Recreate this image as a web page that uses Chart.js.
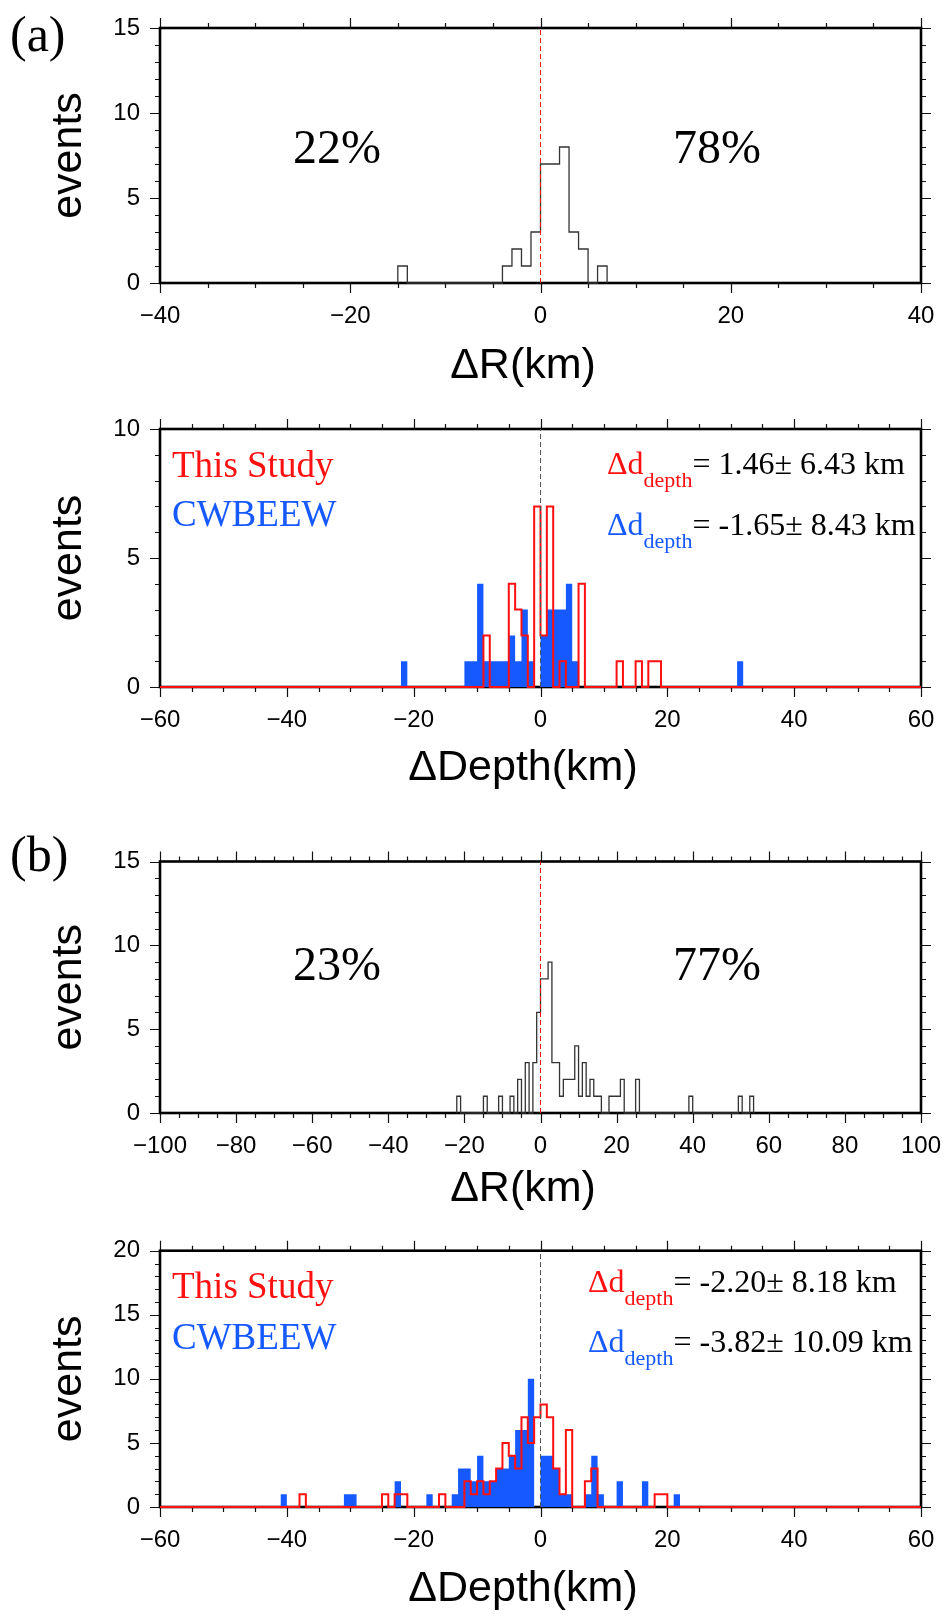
<!DOCTYPE html>
<html>
<head>
<meta charset="utf-8">
<script src="https://cdn.jsdelivr.net/npm/chart.js@4.4.1/dist/chart.umd.min.js"></script>
<style>
  body { margin: 0; background: #fff; width: 945px; height: 1618px; position: relative; overflow: hidden; }
  .panel { position: absolute; left: 0; width: 945px; }
</style>
</head>
<body>
<div class="panel" style="top:0;height:400px"><canvas id="rA"></canvas></div>
<div class="panel" style="top:400px;height:400px"><canvas id="dA"></canvas></div>
<div class="panel" style="top:800px;height:420px"><canvas id="rB"></canvas></div>
<div class="panel" style="top:1220px;height:398px"><canvas id="dB"></canvas></div>
<script>
// histogram bins are 1 km wide; *_bins hold the left edge of each non-empty bin

// (a) epicentral error ΔR
const rA_bins   = [-15, -4, -3, -2, -1, 0, 1, 2, 3, 4, 6];
const rA_counts = [  1,  1,  2,  1,  3, 7, 7, 8, 3, 2, 1];

// (a) depth error, this study vs CWBEEW
const dA_study_bins   = [-9, -5, -4, -3, -1, 0, 1, 3, 6, 12, 15, 17, 18];
const dA_study_counts = [ 2,  4,  3,  2,  7, 2, 7, 1, 4,  1,  1,  1,  1];
const dA_cwb_bins     = [-22, -12, -11, -10, -9, -8, -7, -6, -5, -4, -3, -2, 0, 1, 2, 3, 4, 5, 31];
const dA_cwb_counts   = [  1,   1,   1,   4,  1,  1,  1,  1,  2,  1,  3,  1, 2, 3, 3, 3, 4, 1,  1];

// (b) epicentral error ΔR
const rB_bins   = [-22, -15, -11, -8, -6, -4, -2, -1, 0, 1, 2, 3, 4, 5, 6, 7, 8, 9, 10, 11, 12, 13, 14, 15, 18, 19, 20, 21, 25, 39, 52, 55];
const rB_counts = [  1,   1,   1,  1,  2,  3,  3,  6, 8, 8, 9, 3, 3, 1, 2, 2, 2, 4,  1,  3,  1,  2,  1,  1,  1,  1,  1,  2,  2,  1,  1,  1];

// (b) depth error, this study vs CWBEEW
const dB_study_bins   = [-38, -25, -23, -22, -16, -12, -11, -10, -9, -8, -7, -6, -5, -4, -3, -2, -1, 0, 1, 2, 3, 4, 7, 8, 18, 19];
const dB_study_counts = [  1,   1,   1,   1,   1,   2,   1,   2,  1,  2,  3,  5,  4,  3,  7,  5,  7, 8, 7, 3, 1, 6, 2, 3,  1,  1];
const dB_cwb_bins     = [-41, -31, -30, -23, -18, -14, -13, -12, -11, -10, -9, -8, -7, -6, -5, -4, -3, -2, 0, 1, 2, 3, 4, 7, 8, 9, 12, 16, 21];
const dB_cwb_counts   = [  1,   1,   1,   2,   1,   1,   3,   3,   2,   4,  2,  2,  3,  3,  4,  6,  6, 10, 4, 4, 3, 1, 1, 1, 4, 1,  2,  2,  1];

const BIN = 1;
const RED = '#ff1010';
const BLUE = '#1559ff';
const SANS = '"Liberation Sans", Arial, Helvetica, sans-serif';
const SERIF = '"Liberation Serif", "Times New Roman", serif';

// stair outline of a histogram; lo/hi extend it along the zero line
function stairs(bins, counts, lo, hi) {
  const pts = [];
  if (lo !== undefined) pts.push({x: lo, y: 0});
  bins.forEach((b, i) => {
    const prevEnd = i > 0 ? bins[i - 1] + BIN : null;
    if (prevEnd !== b) {
      if (prevEnd !== null) pts.push({x: prevEnd, y: 0});
      pts.push({x: b, y: 0});
    }
    pts.push({x: b, y: counts[i]}, {x: b + BIN, y: counts[i]});
  });
  pts.push({x: bins[bins.length - 1] + BIN, y: 0});
  if (hi !== undefined) pts.push({x: hi, y: 0});
  return pts;
}

function zeroLine(top, color) {
  return { data: [{x: 0, y: 0}, {x: 0, y: top}], borderColor: color, borderWidth: 1, borderDash: [5, 3], clip: false };
}

const minus = v => (v < 0 ? '\u2212' + Math.abs(v) : String(v));

// frame, GMT style ticks on all sides, and the text annotations
function framePlugin(p) {
  return {
    id: 'frame',
    beforeDatasetsDraw(chart) {
      const {ctx, chartArea: a, scales: {x, y}} = chart;
      ctx.save();
      ctx.strokeStyle = '#111';
      ctx.lineWidth = 1.2;
      ctx.beginPath();
      for (let v = x.min; v <= x.max + 1e-9; v += p.xMinor) {
        const len = Math.abs(v % p.xMajor) < 1e-9 ? 10 : 5;
        const px = Math.round(x.getPixelForValue(v)) + 0.5;
        ctx.moveTo(px, a.bottom); ctx.lineTo(px, a.bottom + len);
        ctx.moveTo(px, a.top); ctx.lineTo(px, a.top - len);
      }
      for (let v = y.min; v <= y.max + 1e-9; v += p.yMinor) {
        const len = Math.abs(v % p.yMajor) < 1e-9 ? 10 : 5;
        const py = Math.round(y.getPixelForValue(v)) + 0.5;
        ctx.moveTo(a.left, py); ctx.lineTo(a.left - len, py);
        ctx.moveTo(a.right, py); ctx.lineTo(a.right + len, py);
      }
      ctx.stroke();
      ctx.lineWidth = 2.6;
      ctx.strokeStyle = '#000';
      ctx.strokeRect(a.left, a.top, a.right - a.left, a.bottom - a.top);
      ctx.restore();
    },
    afterDraw(chart) {
      const ctx = chart.ctx;
      ctx.save();
      ctx.fillStyle = '#000';
      ctx.font = '43px ' + SANS;
      ctx.textAlign = 'center';
      ctx.textBaseline = 'middle';
      ctx.fillText(p.title, 523, p.titleY);
      for (const n of p.notes) {
        let xx = n.x;
        if (n.align === 'center') {
          ctx.font = n.runs[0].font;
          xx -= ctx.measureText(n.runs[0].text).width / 2;
        }
        ctx.textAlign = 'left';
        ctx.textBaseline = 'alphabetic';
        for (const r of n.runs) {
          ctx.font = r.font;
          ctx.fillStyle = r.color || '#000';
          ctx.fillText(r.text, xx, n.y + (r.dy || 0));
          xx += ctx.measureText(r.text).width;
        }
      }
      ctx.restore();
    }
  };
}

function label(text, x, y, size, color, align) {
  return { x, y, align, runs: [{text, font: size + 'px ' + SERIF, color}] };
}

function stat(x, y, color, rest) {
  return { x, y, runs: [
    {text: '\u0394d', font: '32px ' + SERIF, color},
    {text: 'depth', font: '22px ' + SERIF, color, dy: 13},
    {text: rest, font: '32px ' + SERIF, color: '#000'}
  ] };
}

const Y_AXIS_W = 112;
const X_AXIS_H = 60;

function panel(id, c) {
  new Chart(document.getElementById(id), {
    type: 'line',
    data: { datasets: c.datasets },
    options: {
      responsive: true,
      maintainAspectRatio: false,
      animation: false,
      events: [],
      layout: { padding: { left: 160 - Y_AXIS_W, right: 945 - 921, top: c.top, bottom: c.h - c.bottom - X_AXIS_H } },
      elements: { point: { radius: 0 }, line: { tension: 0 } },
      plugins: { legend: { display: false }, tooltip: { enabled: false } },
      scales: {
        x: {
          type: 'linear', min: c.xMin, max: c.xMax,
          afterFit: s => { s.height = X_AXIS_H; s.paddingLeft = 0; s.paddingRight = 0; },
          grid: { display: false, drawTicks: false },
          border: { display: false },
          ticks: { stepSize: c.xStep, autoSkip: false, maxRotation: 0, padding: 19, color: '#000',
                   font: { family: SANS, size: 24 }, callback: minus }
        },
        y: {
          type: 'linear', min: 0, max: c.yMax,
          afterFit: s => { s.width = Y_AXIS_W; s.paddingTop = 0; s.paddingBottom = 0; },
          grid: { display: false, drawTicks: false },
          border: { display: false },
          ticks: { stepSize: 5, autoSkip: false, padding: 20, color: '#000', font: { family: SANS, size: 24 } },
          title: { display: true, text: 'events', color: '#000', padding: 0,
                   font: { family: SANS, size: 43, lineHeight: 1 } }
        }
      }
    },
    plugins: [framePlugin(c.frame)]
  });
}

const outline = (bins, counts) => ({ data: stairs(bins, counts), borderColor: '#333', borderWidth: 1.3, clip: false });
const studyLine = (bins, counts, lo, hi) => ({ data: stairs(bins, counts, lo, hi), borderColor: RED, borderWidth: 2, clip: false });
const cwbFill = (bins, counts) => ({ data: stairs(bins, counts), borderWidth: 0, borderColor: BLUE, backgroundColor: BLUE, fill: 'origin', clip: false });

panel('rA', {
  h: 400, top: 28, bottom: 283, xMin: -40, xMax: 40, xStep: 20, yMax: 15,
  datasets: [zeroLine(15, RED), outline(rA_bins, rA_counts)],
  frame: { xMajor: 20, xMinor: 5, yMajor: 5, yMinor: 1, title: '\u0394R(km)', titleY: 366,
           notes: [label('(a)', 10, 51, 50, '#000'), label('22%', 337, 163, 48, '#000', 'center'),
                   label('78%', 717, 163, 48, '#000', 'center')] }
});

panel('dA', {
  h: 400, top: 29, bottom: 287, xMin: -60, xMax: 60, xStep: 20, yMax: 10,
  datasets: [zeroLine(10, '#555'), studyLine(dA_study_bins, dA_study_counts, -60, 60), cwbFill(dA_cwb_bins, dA_cwb_counts)],
  frame: { xMajor: 20, xMinor: 5, yMajor: 5, yMinor: 1, title: '\u0394Depth(km)', titleY: 368.6,
           notes: [label('This Study', 172, 76.6, 37, RED), label('CWBEEW', 172, 126, 37, BLUE),
                   stat(607, 73.5, RED, '= 1.46\u00b1 6.43 km'), stat(607, 134.5, BLUE, '= -1.65\u00b1 8.43 km')] }
});

panel('rB', {
  h: 420, top: 61.5, bottom: 313, xMin: -100, xMax: 100, xStep: 20, yMax: 15,
  datasets: [zeroLine(15, RED), outline(rB_bins, rB_counts)],
  frame: { xMajor: 20, xMinor: 5, yMajor: 5, yMinor: 1, title: '\u0394R(km)', titleY: 389.5,
           notes: [label('(b)', 10, 71, 50, '#000'), label('23%', 337, 180, 48, '#000', 'center'),
                   label('77%', 717, 180, 48, '#000', 'center')] }
});

panel('dB', {
  h: 398, top: 30.7, bottom: 287, xMin: -60, xMax: 60, xStep: 20, yMax: 20,
  datasets: [zeroLine(20, '#555'), studyLine(dB_study_bins, dB_study_counts, -60, 60), cwbFill(dB_cwb_bins, dB_cwb_counts)],
  frame: { xMajor: 20, xMinor: 5, yMajor: 5, yMinor: 1, title: '\u0394Depth(km)', titleY: 369,
           notes: [label('This Study', 172, 78, 37, RED), label('CWBEEW', 172, 128.5, 37, BLUE),
                   stat(588, 71.7, RED, '= -2.20\u00b1 8.18 km'), stat(588, 131.5, BLUE, '= -3.82\u00b1 10.09 km')] }
});
</script>
</body>
</html>
